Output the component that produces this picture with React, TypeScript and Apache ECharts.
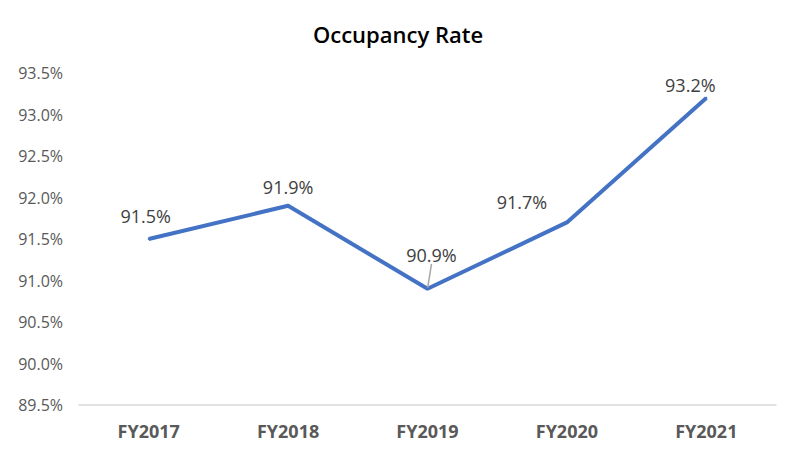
import React, { useEffect, useRef } from "react";
import * as echarts from "echarts";

const categories = ["FY2017", "FY2018", "FY2019", "FY2020", "FY2021"];
const occupancy = [91.5, 91.9, 90.9, 91.7, 93.2];
const yMin = 89.5;
const yMax = 93.5;
const yStep = 0.5;

const labelShift = [
  { dx: -3, dy: -8 },
  { dx: 0, dy: -4 },
  { dx: 4, dy: -19 },
  { dx: -45, dy: -5 },
  { dx: -16, dy: 2 },
];

export default function App() {
  const ref = useRef<HTMLDivElement>(null);
  useEffect(() => {
    if (!ref.current) return;
    document.body.style.margin = "0";
    const chart = echarts.init(ref.current, null, { renderer: "svg" });
    chart.setOption({
      animation: false,
      title: {
        text: "Occupancy Rate",
        left: "center",
        top: 18,
        textStyle: {
          fontFamily: "Open Sans",
          fontSize: 22,
          fontWeight: 600,
          color: "#000000",
        },
      },
      grid: { left: 79, right: 20, top: 73, bottom: 53 },
      xAxis: {
        type: "category",
        data: categories,
        boundaryGap: true,
        axisLine: { lineStyle: { color: "#d9d9d9", width: 1.5 } },
        axisTick: { show: false },
        axisLabel: {
          color: "#595959",
          fontFamily: "Open Sans",
          fontSize: 18,
          fontWeight: "bold",
          margin: 17,
        },
      },
      yAxis: {
        type: "value",
        min: yMin,
        max: yMax,
        interval: yStep,
        splitLine: { show: false },
        axisLine: { show: false },
        axisTick: { show: false },
        axisLabel: {
          color: "#595959",
          fontFamily: "Open Sans",
          fontSize: 16,
          margin: 16,
          formatter: (v: number) => v.toFixed(1) + "%",
        },
      },
      series: [
        {
          type: "line",
          data: occupancy.map((v, i) => ({
            value: v,
            labelLine: { show: i === 2 },
          })),
          symbol: "circle",
          symbolSize: 2,
          showSymbol: true,
          lineStyle: { color: "#4472C4", width: 4 },
          itemStyle: { color: "#4472C4" },
          label: {
            show: true,
            position: "top",
            color: "#404040",
            fontFamily: "Open Sans",
            fontSize: 18,
            formatter: (p: any) => Number(p.value).toFixed(1) + "%",
          },
          labelLine: {
            show: false,
            lineStyle: { color: "#a6a6a6", width: 1.5 },
          },
          labelLayout: (params: any) => labelShift[params.dataIndex],
        },
      ],
    });
    return () => chart.dispose();
  }, []);
  return <div ref={ref} style={{ width: 796, height: 458 }} />;
}
